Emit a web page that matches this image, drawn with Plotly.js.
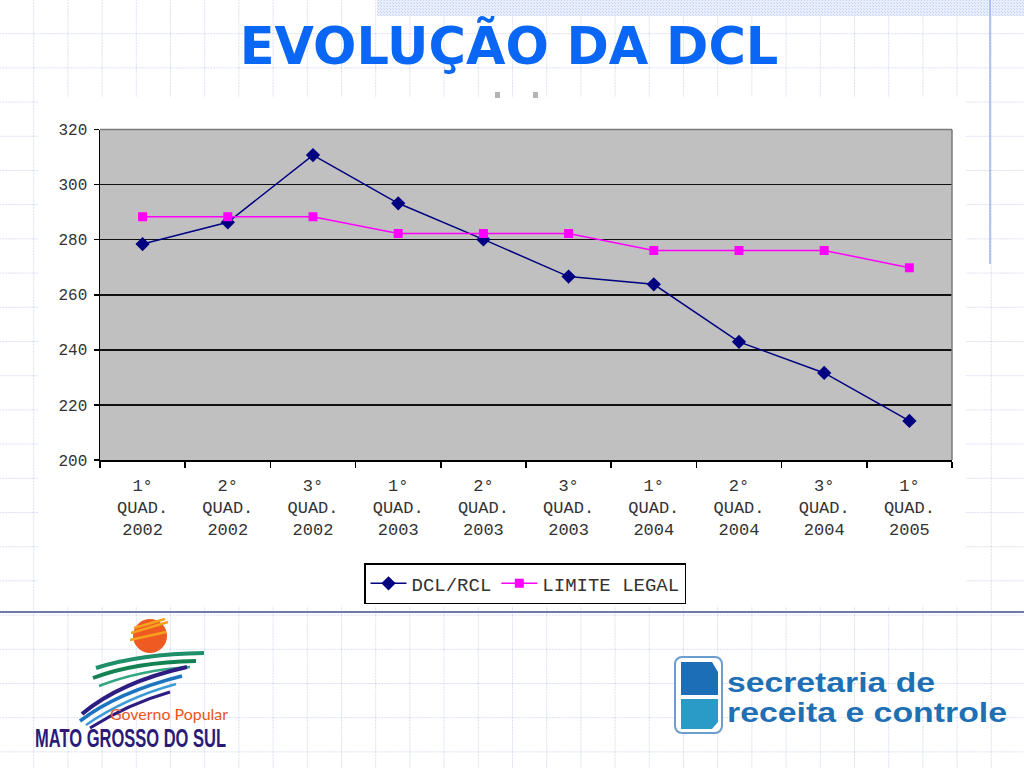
<!DOCTYPE html>
<html>
<head>
<meta charset="utf-8">
<script src="https://cdn.plot.ly/plotly-3.0.1.min.js"></script>
<style>
  html, body { margin: 0; padding: 0; background: #ffffff; overflow: hidden; }
  #deco { position: absolute; left: 0; top: 0; z-index: 0; }
  #chart { position: absolute; left: 0; top: 0; width: 1024px; height: 768px; z-index: 1; }
</style>
</head>
<body>
<!-- slide background and logos -->
<svg id="deco" width="1024" height="768" xmlns="http://www.w3.org/2000/svg">
  <defs>
    <pattern id="grid" x="-1" y="-1" width="34.2" height="34.2" patternUnits="userSpaceOnUse">
      <path d="M0 0.5 H34.2 M0.5 0 V34.2" stroke="#d9dff0" stroke-width="1" stroke-dasharray="2 1" fill="none"/>
    </pattern>
    <pattern id="band" width="3" height="3" patternUnits="userSpaceOnUse">
      <rect width="3" height="3" fill="#e8eefb"/>
      <rect width="1" height="1" fill="#c5d3f2"/>
      <rect x="2" y="2" width="1" height="1" fill="#ccd8f3"/>
    </pattern>
  </defs>
  <rect width="1024" height="768" fill="url(#grid)"/>
  <rect x="377" y="0" width="647" height="16" fill="url(#band)"/>
  <rect x="38" y="97" width="928" height="509" fill="#ffffff"/>
  <line x1="990" y1="0" x2="990" y2="264" stroke="#9cb2e6" stroke-width="1.5"/>
  <rect x="495" y="92" width="5" height="6" fill="#b4b4b4"/>
  <rect x="533" y="92" width="5" height="6" fill="#b4b4b4"/>
  <line x1="0" y1="612" x2="1024" y2="612" stroke="#6f7aa8" stroke-width="2"/>

  <!-- left logo -->
  <circle cx="150" cy="636" r="17" fill="#ee5a22"/>
  <path d="M131 633 L168 622 M134 628 L165 619 M130 640 L166 632" stroke="#f7a11d" stroke-width="2.5" fill="none"/>
  <path d="M96 668 Q140 654 204 653" stroke="#1f8f6a" stroke-width="4" fill="none"/>
  <path d="M93 678 Q135 662 196 661" stroke="#138152" stroke-width="4" fill="none"/>
  <path d="M99 686 Q140 670 190 667" stroke="#33a680" stroke-width="2.5" fill="none"/>
  <path d="M82 714 Q120 682 187 667" stroke="#2d1c82" stroke-width="4" fill="none"/>
  <path d="M80 721 Q118 692 182 676" stroke="#1c74c0" stroke-width="3.5" fill="none"/>
  <path d="M86 725 Q125 698 176 684" stroke="#3d9ad8" stroke-width="2.5" fill="none"/>
  <path d="M90 728 Q128 704 170 692" stroke="#2d1c82" stroke-width="3" fill="none"/>
  <text x="110" y="720" font-family="Lato, 'Liberation Sans'" font-size="16" fill="#e8561b"
        textLength="118" lengthAdjust="spacingAndGlyphs">Governo Popular</text>
  <text x="35" y="747" font-family="'Liberation Sans Narrow', 'Liberation Sans'" font-weight="bold" font-size="25"
        fill="#2b1b78" textLength="191" lengthAdjust="spacingAndGlyphs">MATO GROSSO DO SUL</text>

  <!-- right logo -->
  <rect x="675" y="657" width="47" height="76" rx="7" fill="#ffffff" stroke="#6d9ccf" stroke-width="2"/>
  <path d="M681 662 L712 662 L718 672 L718 695 L681 695 Z" fill="#1c6fb7"/>
  <path d="M681 699 L718 699 L718 722 L712 729 L681 729 Z" fill="#2a9bc6"/>
  <text x="727" y="692" font-family="'Liberation Sans', Arial" font-weight="bold" font-size="27"
        fill="#1f6fb5" textLength="208" lengthAdjust="spacingAndGlyphs">secretaria de</text>
  <text x="727" y="722" font-family="'Liberation Sans', Arial" font-weight="bold" font-size="27"
        fill="#1f6fb5" textLength="280" lengthAdjust="spacingAndGlyphs">receita e controle</text>
</svg>

<div id="chart"></div>

<script>
// Chart data
const quarters = ['1°', '2°', '3°', '1°', '2°', '3°', '1°', '2°', '3°', '1°'];
const years = ['2002', '2002', '2002', '2003', '2003', '2003', '2004', '2004', '2004', '2005'];
const dclRcl = [278.4, 286.3, 310.7, 293.2, 280.1, 266.6, 263.8, 242.9, 231.6, 214.2];
const limiteLegal = [288.3, 288.3, 288.3, 282.2, 282.2, 282.2, 276.1, 276.1, 276.1, 269.8];
const yTicks = [200, 220, 240, 260, 280, 300, 320];

const categories = quarters.map((q, i) => q + '<br>QUAD.<br>' + years[i]);

const W = 1024, H = 768;
const px = (x) => x / W;
const py = (y) => 1 - y / H;

const MONO = "'Liberation Mono', 'Courier New', monospace";

const traceDcl = {
    x: categories,
    y: dclRcl,
    type: 'scatter',
    mode: 'lines+markers',
    name: 'DCL/RCL',
    line: { color: '#000080', width: 1.5 },
    marker: { symbol: 'diamond', size: 11, color: '#000080' }
};

const traceLimite = {
    x: categories,
    y: limiteLegal,
    type: 'scatter',
    mode: 'lines+markers',
    name: 'LIMITE LEGAL',
    line: { color: '#ff00ff', width: 1.5 },
    marker: { symbol: 'square', size: 9, color: '#ff00ff' }
};

const layout = {
    width: W,
    height: H,
    margin: { l: 0, r: 0, t: 0, b: 0 },
    paper_bgcolor: 'rgba(0,0,0,0)',
    plot_bgcolor: '#c0c0c0',
    title: {
        text: '<b>EVOLUÇÃO DA DCL</b>',
        font: { family: "'DejaVu Sans', Verdana, sans-serif", size: 51, color: '#0a66f5' },
        x: px(509),
        xanchor: 'center',
        y: py(46),
        yanchor: 'middle'
    },
    xaxis: {
        domain: [px(100), px(952)],
        type: 'category',
        range: [-0.5, 9.5],
        tickson: 'boundaries',
        ticks: 'outside',
        ticklen: 6,
        tickwidth: 1.5,
        tickcolor: '#000',
        showline: true,
        linecolor: '#000',
        linewidth: 1.5,
        showgrid: false,
        ticklabelstandoff: 9,
        tickfont: { family: MONO, size: 17, color: '#333' },
        fixedrange: true
    },
    yaxis: {
        domain: [py(460), py(129.5)],
        range: [200, 320],
        tickvals: yTicks,
        ticks: 'outside',
        ticklen: 5,
        tickwidth: 1.5,
        tickcolor: '#000',
        showline: true,
        linecolor: '#000',
        linewidth: 1.5,
        gridcolor: '#111',
        gridwidth: 1.5,
        zeroline: false,
        ticklabelstandoff: 3,
        tickfont: { family: MONO, size: 16, color: '#333' },
        fixedrange: true
    },
    showlegend: true,
    legend: {
        orientation: 'h',
        x: px(525),
        xanchor: 'center',
        y: py(563),
        yanchor: 'top',
        bgcolor: '#ffffff',
        bordercolor: '#000',
        borderwidth: 1.5,
        itemwidth: 36,
        font: { family: MONO, size: 19, color: '#333' },
        traceorder: 'normal'
    },
    shapes: [
        // grey plot-area border on top and right
        { type: 'line', xref: 'x domain', yref: 'y domain', x0: 0, x1: 1, y0: 1, y1: 1,
          line: { color: '#7a7a7a', width: 1.5 }, layer: 'above' },
        { type: 'line', xref: 'x domain', yref: 'y domain', x0: 1, x1: 1, y0: 0, y1: 1,
          line: { color: '#7a7a7a', width: 1.5 }, layer: 'above' }
    ]
};

Plotly.newPlot('chart', [traceDcl, traceLimite], layout, { displayModeBar: false, staticPlot: true });
</script>
</body>
</html>
